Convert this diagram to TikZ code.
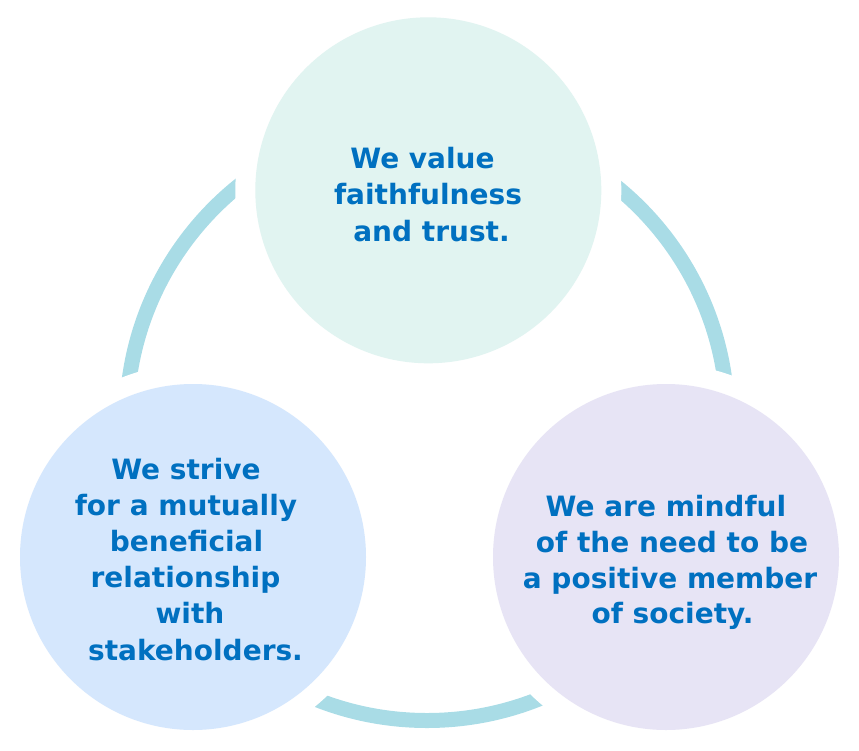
\documentclass[tikz,border=0pt]{standalone}
\usepackage{fontspec}
\setmainfont{DejaVu Sans}
\definecolor{ringc}{HTML}{A9DCE6}
\definecolor{topc}{HTML}{E1F4F1}
\definecolor{leftc}{HTML}{D5E7FD}
\definecolor{rightc}{HTML}{E7E4F5}
\definecolor{txtc}{HTML}{0070C0}
\tikzset{
  mask/.style={circle, fill=white, inner sep=0, minimum size=386pt},
  disc/.style={circle, inner sep=0, minimum size=346pt},
  txt/.style={anchor=base, inner sep=0, text=txtc, font=\bfseries\fontsize{28pt}{33pt}\selectfont}
}
\begin{document}
\begin{tikzpicture}[x=1pt,y=-1pt]
\useasboundingbox (0,0) rectangle (859,750);
\coordinate (rc) at (427,420);
\draw[ringc, line width=15pt] (rc) circle[radius=300.5];
\node[mask] (mt) at (428.3,190.3) {};
\node[mask] (ml) at (193,557) {};
\node[mask] (mr) at (666,557) {};
\node[disc, fill=topc] (ct) at (428.3,190.3) {};
\node[disc, fill=leftc] (cl) at (193,557) {};
\node[disc, fill=rightc] (cr) at (666,557) {};
% top text
\node[txt] (t1) at (422.5,168) {We value};
\node[txt] (t2) at (428,204.5) {faithfulness};
\node[txt] (t3) at (431.5,241) {and trust.};
% left text
\node[txt] (l1) at (186,479) {We strive};
\node[txt] (l2) at (186,515) {for a mutually};
\node[txt] (l3) at (186.5,551) {beneficial};
\node[txt] (l4) at (185.5,587) {relationship};
\node[txt] (l5) at (190,623) {with};
\node[txt] (l6) at (195.5,660) {stakeholders.};
% right text
\node[txt] (r1) at (666,516) {We are mindful};
\node[txt] (r2) at (672,552) {of the need to be};
\node[txt] (r3) at (670,588) {a positive member};
\node[txt] (r4) at (672.5,623) {of society.};
\end{tikzpicture}
\end{document}
